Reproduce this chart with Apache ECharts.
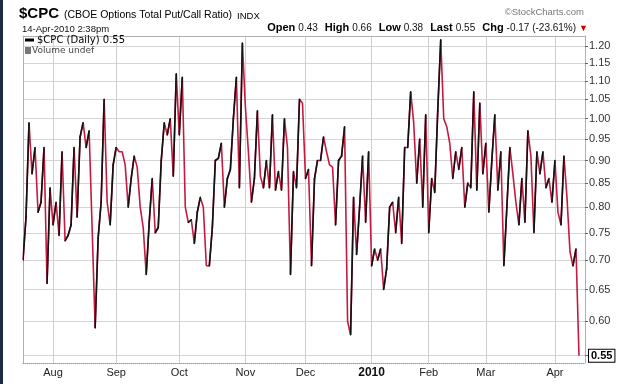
<!DOCTYPE html>
<html><head><meta charset="utf-8">
<script src="https://cdn.jsdelivr.net/npm/echarts@6/dist/echarts.min.js"></script>
<style>html,body{margin:0;padding:0;background:#fff}#c{width:620px;height:384px}</style>
</head><body><div id="c"></div>
<script>
// ---- data ----
const startDate = '2009-07-20';
const endDate = '2010-04-14';
const holidays = ['2009-09-07','2009-11-26','2009-12-25','2010-01-01','2010-01-18','2010-02-15','2010-04-02'];
const values = [
  0.70,0.78,0.99,0.87,0.93,0.79,0.81,0.93,0.66,0.84,
  0.765,0.81,0.745,0.92,0.735,0.745,0.765,0.93,0.78,0.955,
  0.99,0.93,0.97,0.76,0.59,0.74,0.81,1.05,0.81,0.765,
  0.89,0.93,0.92,0.92,0.89,0.80,0.86,0.91,0.885,0.80,
  0.76,0.675,0.77,0.86,0.75,0.76,0.90,0.99,0.96,1.00,
  0.865,1.12,0.96,1.11,0.80,0.77,0.775,0.73,0.79,0.82,
  0.80,0.69,0.69,0.76,0.90,0.905,0.94,0.80,0.86,0.88,
  1.00,1.11,0.84,1.21,1.03,0.92,0.81,0.86,1.02,0.865,
  0.84,0.90,0.84,1.01,0.835,0.875,0.835,1.00,0.93,0.675,
  0.875,0.84,1.05,1.04,0.86,0.88,0.69,0.86,0.90,0.90,
  0.955,0.92,0.89,0.885,0.765,0.90,0.91,0.98,0.60,0.58,
  0.82,0.71,0.80,0.91,0.77,0.92,0.69,0.72,0.70,0.72,
  0.65,0.685,0.80,0.81,0.75,0.82,0.73,0.93,0.93,1.07,
  0.99,0.85,0.95,0.80,1.01,0.75,0.86,0.83,1.02,1.22,
  1.00,0.98,0.94,0.86,0.92,0.88,0.93,0.80,0.85,0.84,
  1.07,0.835,1.04,0.87,0.94,0.79,0.90,1.01,0.835,0.92,
  0.69,0.80,0.93,0.87,0.81,0.765,0.86,0.77,0.97,0.91,
  0.75,0.92,0.87,0.92,0.84,0.86,0.81,0.90,0.79,0.765,
  0.91,0.82,0.715,0.69,0.72,0.55
];
const yTickLabels = [0.55,0.60,0.65,0.70,0.75,0.80,0.85,0.90,0.95,1.00,1.05,1.10,1.15,1.20];
const monthNames = ['Jan','Feb','Mar','Apr','May','Jun','Jul','Aug','Sep','Oct','Nov','Dec'];
const seriesName = '$CPC (Daily) 0.55';
const lastValue = 0.55;
const symbolText = '$CPC';
const nameText = '(CBOE Options Total Put/Call Ratio)';
const exchangeText = 'INDX';
const stampText = '14-Apr-2010 2:38pm';
const statLabels = ['Open','High','Low','Last','Chg'];
const statValues = ['0.43','0.66','0.38','0.55','-0.17 (-23.61%)'];
const creditText = '\u00A9StockCharts.com';
const volumeText = 'Volume undef';

// ---- build ----
function tradingDays(s, e, hol) {
  const out = [];
  let d = new Date(s + 'T00:00:00Z');
  const end = new Date(e + 'T00:00:00Z');
  while (d <= end) {
    const wd = d.getUTCDay();
    const iso = d.toISOString().slice(0, 10);
    if (wd !== 0 && wd !== 6 && hol.indexOf(iso) < 0) out.push(iso);
    d = new Date(d.getTime() + 86400000);
  }
  return out;
}
const dates = tradingDays(startDate, endDate, holidays);
const categories = dates.concat(['', '']);
function isMonthStart(i) {
  return i > 0 && i < dates.length && dates[i].slice(0, 7) !== dates[i - 1].slice(0, 7);
}
const lnVals = values.map(v => Math.log(v));
const upSegs = [];
for (let i = 0; i < values.length - 1; i++) {
  if (values[i + 1] > values[i]) upSegs.push([i, lnVals[i], lnVals[i + 1]]);
}
const yTicksLn = yTickLabels.map(v => Math.log(v));
const RED = '#c41a40';
const statText = statLabels.map((l, i) =>
  '{l|' + l + '}{' + (i < statLabels.length - 1 ? 'v' : 'w') + '|' + statValues[i] + '}').join('') + '{t|\u25BC}';
const FF = 'Liberation Sans';

const chart = echarts.init(document.getElementById('c'), null, {renderer: 'canvas'});
chart.setOption({
  animation: false,
  backgroundColor: '#fff',
  textStyle: {fontFamily: FF},
  graphic: [{type: 'rect', left: 0, top: 0, shape: {width: 3, height: 384}, style: {fill: '#1d2b45'}}],
  title: [
    {text: '{a|' + symbolText + '} {b|' + nameText + '} {c|' + exchangeText + '}', left: 19, top: 3, padding: 0,
      textStyle: {rich: {
        a: {fontSize: 15, fontWeight: 'bold', color: '#000', fontFamily: FF, verticalAlign: 'bottom', lineHeight: 16},
        b: {fontSize: 10.5, fontWeight: 'normal', color: '#000', fontFamily: FF, verticalAlign: 'bottom', lineHeight: 16},
        c: {fontSize: 9.5, fontWeight: 'normal', color: '#000', fontFamily: FF, verticalAlign: 'bottom', lineHeight: 16}}}},
    {text: stampText, left: 22, top: 24, padding: 0,
      textStyle: {fontSize: 9.5, fontWeight: 'normal', color: '#111', fontFamily: FF}},
    {text: statText, right: 32, top: 19, padding: 0,
      textStyle: {rich: {
        l: {fontSize: 11, fontWeight: 'bold', color: '#000', fontFamily: FF, verticalAlign: 'bottom', lineHeight: 14},
        v: {fontSize: 10, fontWeight: 'normal', color: '#111', fontFamily: FF, verticalAlign: 'bottom', lineHeight: 14, padding: [0, 7, 0, 3]},
        w: {fontSize: 10, fontWeight: 'normal', color: '#111', fontFamily: FF, verticalAlign: 'bottom', lineHeight: 14, padding: [0, 3, 0, 3]},
        t: {fontSize: 9, fontWeight: 'normal', color: '#c00', verticalAlign: 'bottom', lineHeight: 14}}}},
    {text: creditText, right: 36, top: 7, padding: 0,
      textStyle: {fontSize: 9.5, fontWeight: 'normal', color: '#777', fontFamily: FF}},
    {text: '{i| }{t|' + volumeText + '}', left: 25, top: 46, padding: 0,
      textStyle: {rich: {
        i: {width: 6, height: 7, backgroundColor: '#777'},
        t: {fontSize: 9, fontWeight: 'normal', color: '#444', fontFamily: 'DejaVu Sans', padding: [0, 0, 0, 1]}}}}
  ],
  legend: {left: 25, top: 35, padding: 0, data: [seriesName], icon: 'rect', itemWidth: 9, itemHeight: 3,
    itemStyle: {color: '#000'}, selectedMode: false,
    textStyle: {fontFamily: 'DejaVu Sans', fontSize: 10, color: '#000', padding: [0, 0, 0, -2]}},
  grid: {left: 23, right: 35, top: 36, bottom: 21},
  xAxis: [
    {type: 'category', data: categories, boundaryGap: false,
      axisLine: {show: true, onZero: false, lineStyle: {color: '#999', type: 'dotted'}},
      axisTick: {show: false},
      axisLabel: {interval: (i) => isMonthStart(i), margin: 4, fontSize: 11, color: '#222', fontFamily: FF,
        formatter: (val) => {
          if (!val) return '';
          const m = +val.slice(5, 7);
          return m === 1 ? '{y|' + val.slice(0, 4) + '}' : monthNames[m - 1];
        },
        rich: {y: {fontWeight: 'bold', fontSize: 12, color: '#111', fontFamily: FF}}},
      splitLine: {show: true, interval: (i) => isMonthStart(i), lineStyle: {color: '#cfcfcf', width: 1}}},
    {type: 'category', position: 'top', data: categories, boundaryGap: false,
      axisLine: {show: true, onZero: false, lineStyle: {color: '#b0b0b0'}}, axisTick: {show: false}, axisLabel: {show: false}, splitLine: {show: false}}
  ],
  yAxis: [
    {type: 'value', position: 'right', min: Math.log(0.54), max: Math.log(1.232),
      axisLine: {show: true, onZero: false, lineStyle: {color: '#b0b0b0'}},
      axisTick: {show: true, customValues: yTicksLn, length: 3, lineStyle: {color: '#666'}},
      axisLabel: {customValues: yTicksLn, margin: 4, fontSize: 11, color: '#333', fontFamily: FF,
        formatter: (v) => {
          const x = Math.exp(v);
          return Math.abs(x - lastValue) < 1e-6 ? '{last|' + x.toFixed(2) + '}' : x.toFixed(2);
        },
        rich: {last: {fontWeight: 'bold', fontSize: 11, color: '#000', fontFamily: FF,
          borderColor: '#000', borderWidth: 1, backgroundColor: '#fff', padding: [1, 2, 0, 2]}}},
      splitLine: {show: true, lineStyle: {color: '#d4d4d4', width: 1}}},
    {type: 'value', position: 'left', min: Math.log(0.54), max: Math.log(1.232),
      axisLine: {show: true, onZero: false, lineStyle: {color: '#b0b0b0'}}, axisTick: {show: false}, axisLabel: {show: false}, splitLine: {show: false}}
  ],
  series: [
    {name: seriesName, type: 'line', data: lnVals, symbol: 'none', yAxisIndex: 0,
      lineStyle: {color: RED, width: 1.6}, itemStyle: {color: RED}, z: 2},
    {type: 'custom', yAxisIndex: 0, data: upSegs, encode: {x: 0, y: [1, 2]}, z: 3, clip: true,
      renderItem: (params, api) => {
        const p1 = api.coord([api.value(0), api.value(1)]);
        const p2 = api.coord([api.value(0) + 1, api.value(2)]);
        return {type: 'line', shape: {x1: p1[0], y1: p1[1], x2: p2[0], y2: p2[1]},
          style: {stroke: '#111', lineWidth: 1.6, lineCap: 'round'}};
      }}
  ]
});
</script></body></html>
